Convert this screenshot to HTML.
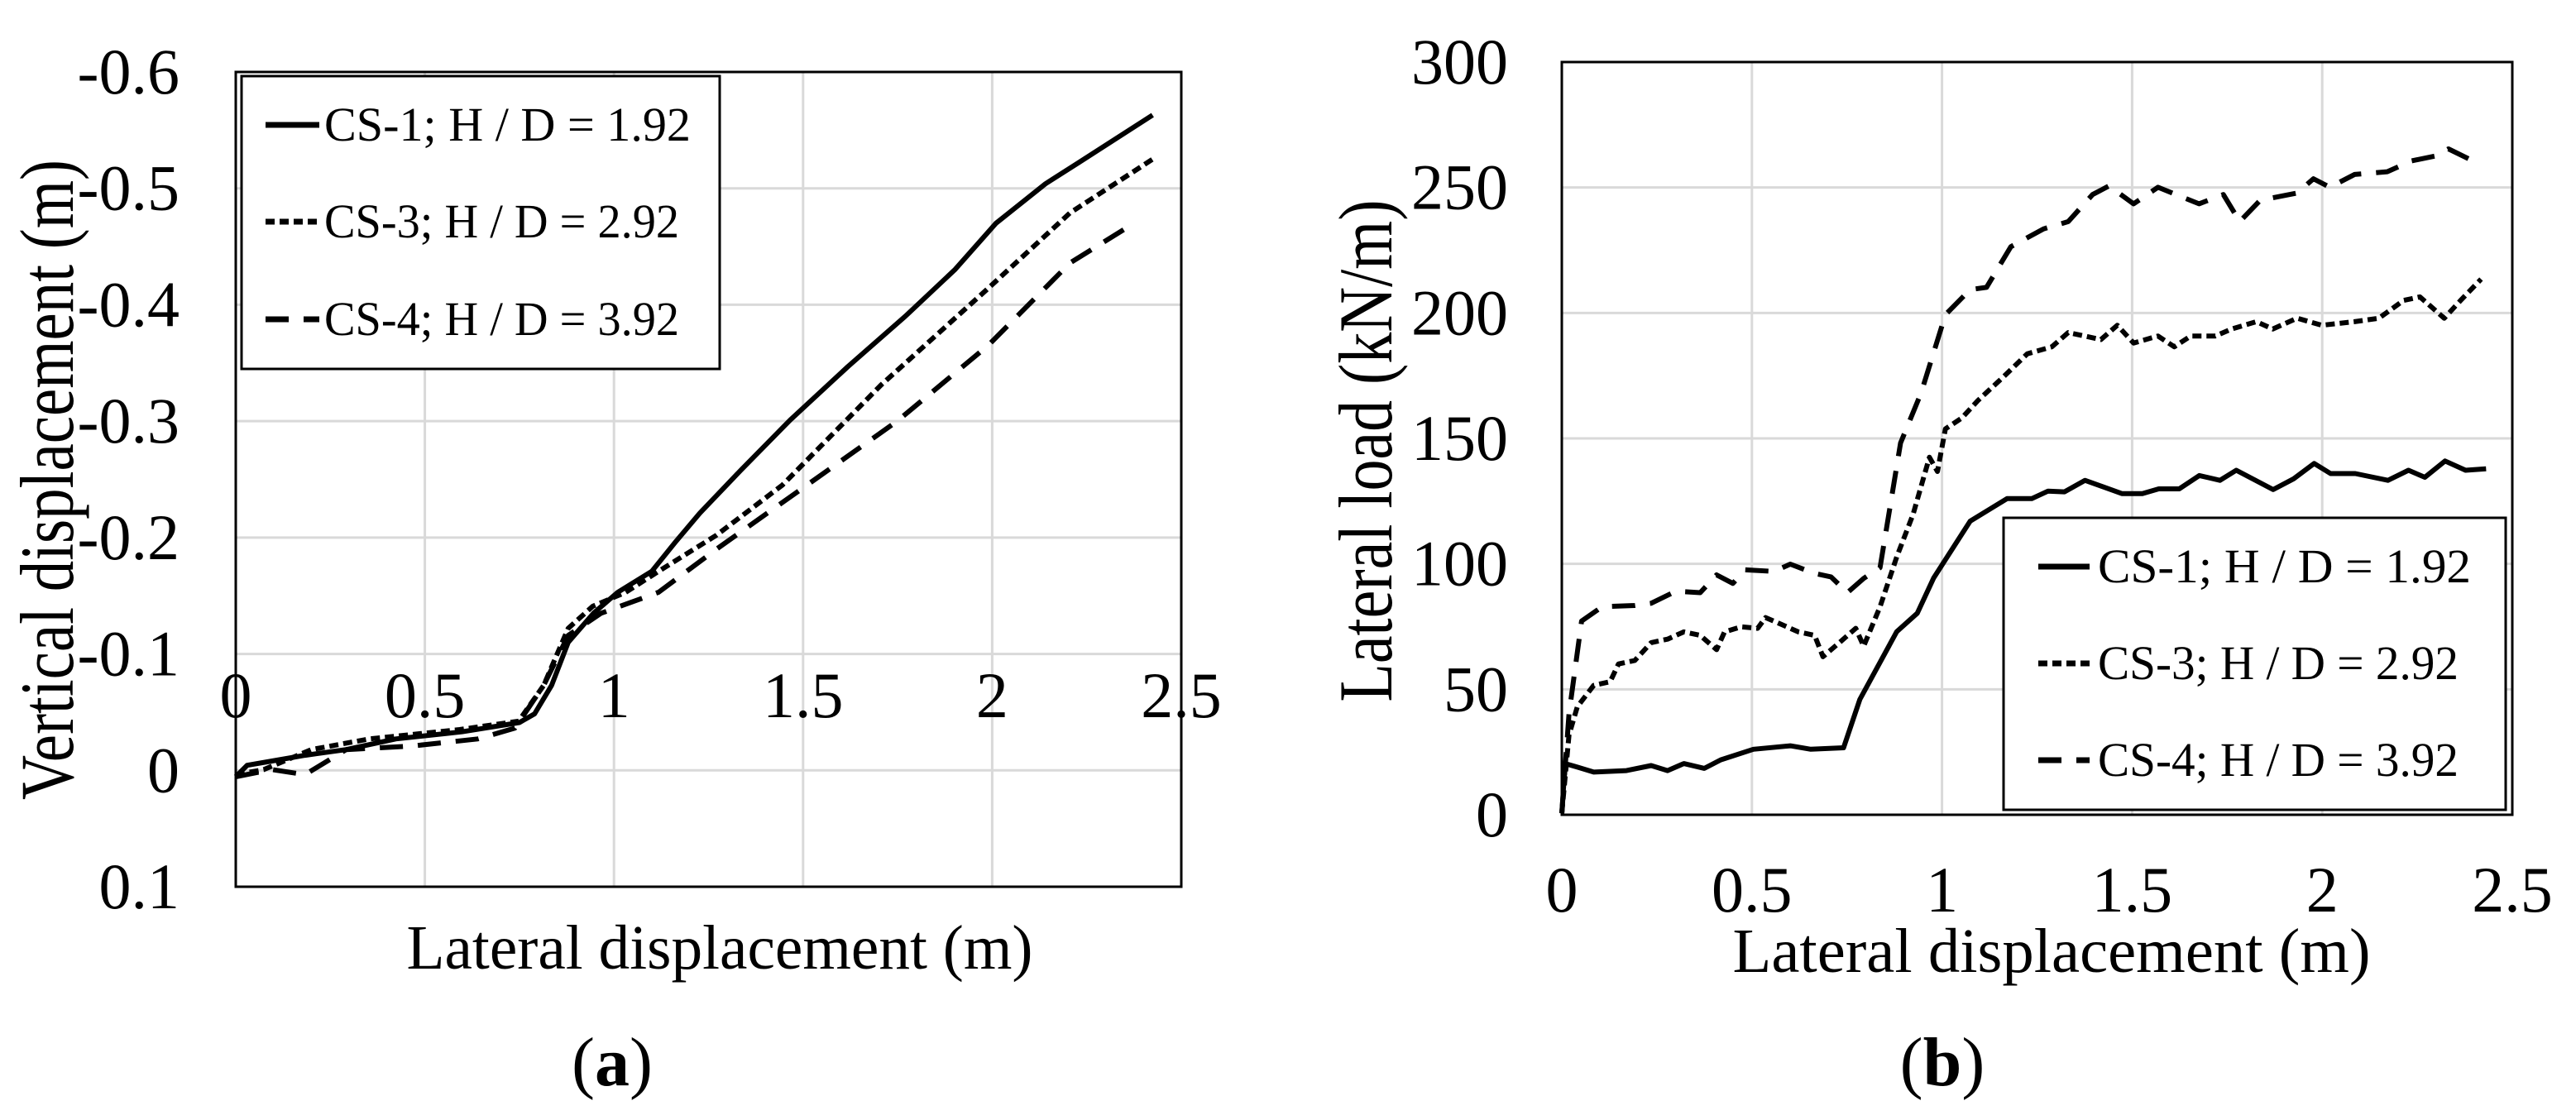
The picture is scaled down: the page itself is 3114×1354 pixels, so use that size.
<!DOCTYPE html>
<html><head><meta charset="utf-8"><style>
html,body{margin:0;padding:0;background:#fff;overflow:hidden;}
svg{display:block;font-family:"Liberation Serif",serif;}
</style></head><body>
<svg id="fig" width="3114" height="1354" viewBox="0 0 3114 1354" xmlns="http://www.w3.org/2000/svg">
<g id="chartA"></g>
<g id="chartB"></g>
<text x="740" y="1312" font-size="84" text-anchor="middle">(<tspan font-weight="bold">a</tspan>)</text>
<text x="2348" y="1312" font-size="84" text-anchor="middle">(<tspan font-weight="bold">b</tspan>)</text>
</svg>
<script>
const NS="http://www.w3.org/2000/svg";
// ---- Chart A data ----
const aXTicks=["0","0.5","1","1.5","2","2.5"];
const aYTicks=["-0.6","-0.5","-0.4","-0.3","-0.2","-0.1","0","0.1"];
const aCS1x=[0,0.03,0.096,0.183,0.292,0.423,0.598,0.75,0.79,0.835,0.879,0.946,1.01,1.10,1.162,1.227,1.336,1.466,1.619,1.77,1.901,2.01,2.141,2.228,2.424];
const aCS1y=[0.0055,-0.0043,-0.008,-0.0129,-0.0178,-0.027,-0.0331,-0.0411,-0.0485,-0.073,-0.110,-0.135,-0.153,-0.171,-0.196,-0.221,-0.258,-0.301,-0.347,-0.390,-0.430,-0.470,-0.504,-0.522,-0.563];
const aCS3x=[0,0.074,0.2,0.353,0.592,0.748,0.814,0.879,0.944,1.031,1.118,1.271,1.445,1.706,1.989,2.206,2.424];
const aCS3y=[0.0037,-0.0006,-0.0178,-0.027,-0.035,-0.0423,-0.073,-0.122,-0.141,-0.153,-0.171,-0.202,-0.245,-0.331,-0.414,-0.479,-0.525];
const aCS4x=[0,0.096,0.183,0.292,0.466,0.64,0.738,0.814,0.879,0.966,1.118,1.271,1.51,1.749,1.989,2.206,2.38];
const aCS4y=[0.0055,-0.0006,0.0037,-0.0178,-0.0209,-0.027,-0.0362,-0.073,-0.116,-0.135,-0.153,-0.190,-0.245,-0.300,-0.365,-0.436,-0.471];
// ---- Chart B data ----
const bXTicks=["0","0.5","1","1.5","2","2.5"];
const bYTicks=["0","50","100","150","200","250","300"];
const bCS1x=[0,0.0086,0.041,0.084,0.170,0.235,0.278,0.321,0.375,0.418,0.504,0.601,0.655,0.741,0.784,0.881,0.935,0.978,1.074,1.171,1.236,1.279,1.322,1.376,1.473,1.527,1.570,1.624,1.677,1.731,1.774,1.871,1.925,1.979,2.022,2.087,2.173,2.227,2.270,2.323,2.377,2.431];
const bCS1y=[0.6,20.4,19,17,17.6,19.6,17.6,20.4,18.5,21.9,26.1,27.5,26.1,26.7,46,73,80.3,94.4,117,126,126,129,128.7,133.3,128,128,129.9,129.9,135.2,133.3,137.3,129.6,133.9,140,136,136,133.3,137.3,134.5,141,137.3,137.9];
const bCS3x=[0,0.019,0.041,0.084,0.127,0.149,0.192,0.235,0.278,0.321,0.364,0.407,0.428,0.472,0.515,0.536,0.579,0.622,0.665,0.687,0.73,0.773,0.794,0.837,0.881,0.924,0.967,0.988,1.009,1.052,1.095,1.16,1.224,1.289,1.332,1.375,1.418,1.461,1.504,1.568,1.611,1.654,1.719,1.762,1.827,1.87,1.934,1.999,2.085,2.149,2.214,2.257,2.321,2.364,2.418];
const bCS3y=[0.6,31.8,43.1,51.6,53.0,60.1,61.5,68.6,70.0,72.9,71.5,65.8,72.9,74.9,74.3,78.6,75.8,72.9,71.5,63.0,68.6,74.3,67.2,82.9,102.8,119.8,142.5,136.8,153.8,158.1,165.2,174.3,183.7,186.5,192.2,190.8,189.4,195.1,188.0,190.8,186.5,190.8,190.8,193.6,196.5,193.6,197.9,195.1,196.5,197.9,205.0,206.4,197.9,205.0,213.5];
const bCS4x=[0,0.019,0.052,0.106,0.192,0.235,0.3,0.364,0.407,0.45,0.482,0.558,0.601,0.665,0.708,0.751,0.794,0.837,0.891,0.945,1.009,1.074,1.117,1.181,1.267,1.332,1.396,1.439,1.504,1.568,1.676,1.74,1.783,1.837,1.934,1.977,2.02,2.085,2.171,2.235,2.3,2.332,2.386,2.418];
const bCS4y=[0.6,40.3,77.2,82.9,83.4,84.3,89.1,88.5,95.6,92.2,97.6,97.0,99.9,96.2,94.8,88.5,94.2,98.5,148.2,168.1,199.3,209.3,210.2,226.4,233.5,236.4,247.2,250.6,243.5,250.1,243.5,247.2,236.4,244.9,247.8,253.5,250.1,255.2,256.3,260.6,262.6,265.4,261.4,264.3];
const legendLabels=["CS-1;  H / D = 1.92","CS-3; H / D = 2.92","CS-4; H / D = 3.92"];
const dashes=["none","11,6","28,18"];

function mk(tag,attrs,parent){const e=document.createElementNS(NS,tag);for(const k in attrs)e.setAttribute(k,attrs[k]);parent.appendChild(e);return e;}
function pathD(xs,ys,sx,sy){return xs.map((x,i)=>(i?"L":"M")+sx(x).toFixed(1)+","+sy(ys[i]).toFixed(1)).join(" ");}

function drawChart(g,cfg){
 const {L,R,T,B,xmin,xmax,ymin,ymax,xTicks,yTicks,series,invertY}=cfg;
 const sx=v=>L+(v-xmin)/(xmax-xmin)*(R-L);
 const sy=invertY?(v=>T+(v-ymin)/(ymax-ymin)*(B-T)):(v=>B-(v-ymin)/(ymax-ymin)*(B-T));
 for(let i=0;i<xTicks.length;i++){const v=+xTicks[i];
  const l=mk('line',{x1:sx(v),x2:sx(v),y1:T,y2:B,stroke:'#d9d9d9','stroke-width':3},g);
  
  const t=mk('text',{x:sx(v),y:cfg.xTickY,'font-size':78,'text-anchor':'middle'},g);t.textContent=xTicks[i];
  }
 for(let i=0;i<yTicks.length;i++){const v=+yTicks[i];
  const l=mk('line',{x1:L,x2:R,y1:sy(v),y2:sy(v),stroke:'#d9d9d9','stroke-width':3},g);
  
  const t=mk('text',{x:cfg.yTickX,y:sy(v)+26,'font-size':78,'text-anchor':'end'},g);t.textContent=yTicks[i];
  }
 const fr=mk('rect',{x:L,y:T,width:R-L,height:B-T,fill:'none',stroke:'#000','stroke-width':3},g);
 
 series.forEach((s,i)=>{const p=mk('path',{d:pathD(s[0],s[1],sx,sy),fill:'none',stroke:'#000','stroke-width':6,'stroke-dasharray':dashes[i],'stroke-linejoin':'round'},g);
  });
 const lb=cfg.legend;
 const lg=mk('rect',{x:lb.x,y:lb.y,width:lb.w,height:lb.h,fill:'#fff',stroke:'#000','stroke-width':3},g);
 
 lb.rows.forEach((y,i)=>{const l=mk('line',{x1:lb.sx1,x2:lb.sx2,y1:y-19,y2:y-19,stroke:'#000','stroke-width':7,'stroke-dasharray':dashes[i]},g);
  
  const t=mk('text',{x:lb.tx,y:y,'font-size':58,textLength:lb.lens[i],lengthAdjust:'spacingAndGlyphs'},g);t.textContent=legendLabels[i];
  });
 const xt=mk('text',{x:cfg.xTitle[0],y:cfg.xTitle[1],'font-size':76,'text-anchor':'middle',textLength:cfg.xTitle[2],lengthAdjust:'spacingAndGlyphs'},g);xt.textContent='Lateral displacement (m)';
 
 const yt=mk('text',{x:0,y:0,'font-size':92,'text-anchor':'middle',transform:'translate('+cfg.yTitle[0]+','+cfg.yTitle[1]+') rotate(-90)',textLength:cfg.yTitle[2],lengthAdjust:'spacingAndGlyphs'},g);yt.textContent=cfg.yTitleText;
 
}

drawChart(document.getElementById('chartA'),{
 L:285,R:1428,T:87,B:1072,xmin:0,xmax:2.5,ymin:-0.6,ymax:0.1,invertY:true,
 xTicks:aXTicks,yTicks:aYTicks,xTickY:867,yTickX:217,
 series:[[aCS1x,aCS1y],[aCS3x,aCS3y],[aCS4x,aCS4y]],
 legend:{x:292,y:92,w:578,h:354,rows:[170,287,405],sx1:321,sx2:386,tx:392,lens:[443,429,429]},
 xTitle:[870,1171,757],yTitle:[88,580,774],yTitleText:'Vertical displacement (m)'
});
drawChart(document.getElementById('chartB'),{
 L:1888,R:3037,T:75,B:985,xmin:0,xmax:2.5,ymin:0,ymax:300,invertY:false,
 xTicks:bXTicks,yTicks:bYTicks,xTickY:1102,yTickX:1823,
 series:[[bCS1x,bCS1y],[bCS3x,bCS3y],[bCS4x,bCS4y]],
 legend:{x:2422,y:626,w:607,h:353,rows:[704,821,938],sx1:2464,sx2:2526,tx:2536,lens:[451,436,436]},
 xTitle:[2480,1175,771],yTitle:[1682,545,607],yTitleText:'Lateral load (kN/m)'
});
</script>
</body></html>
